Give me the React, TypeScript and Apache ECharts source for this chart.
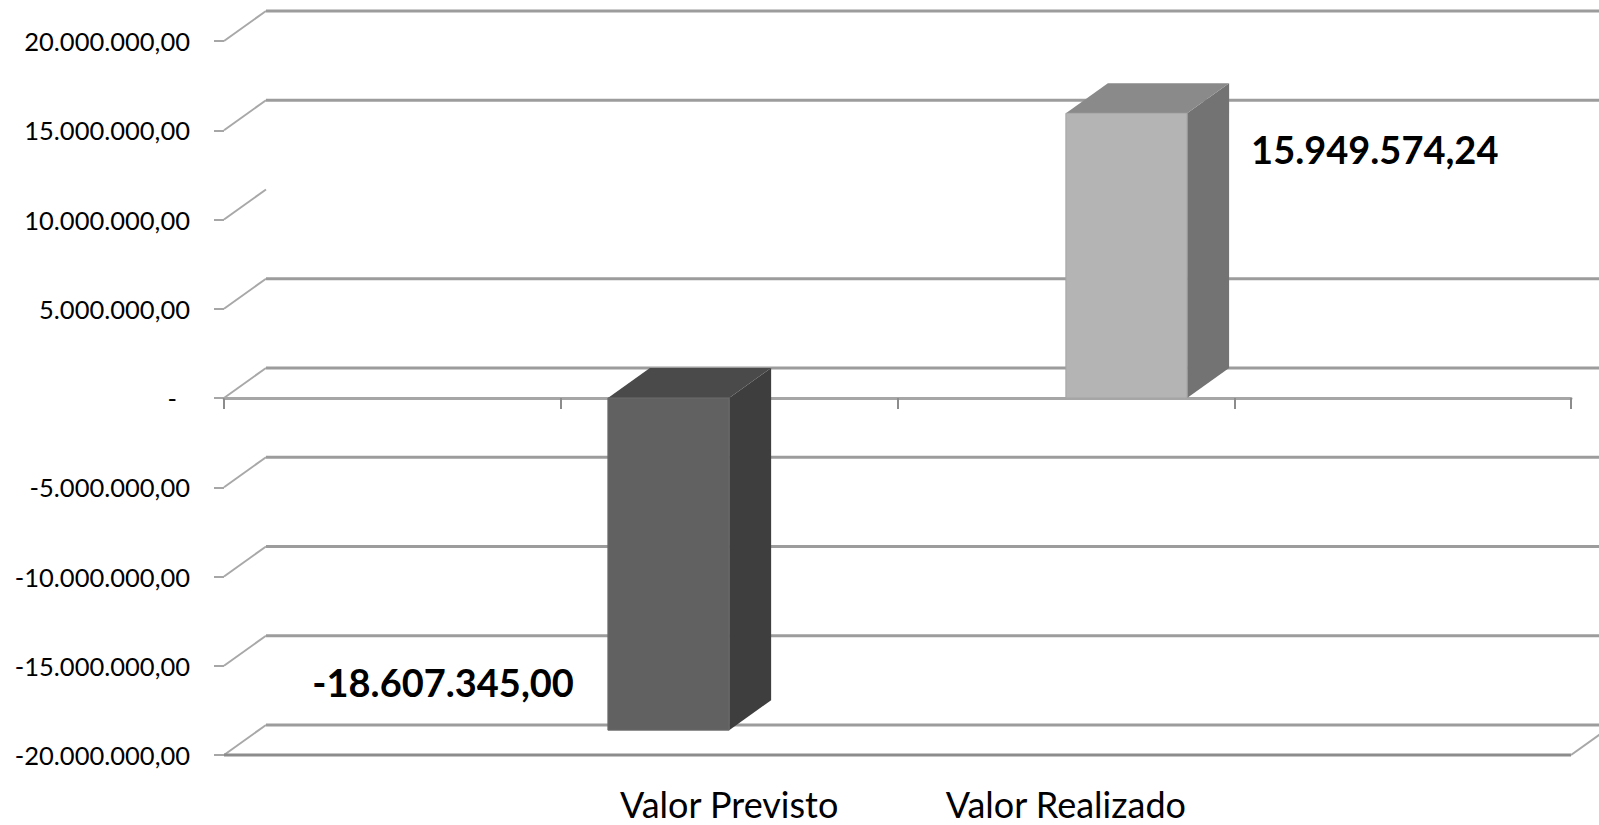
import React, { useEffect, useRef } from "react";
import * as echarts from "echarts";

const categories = ["", "Valor Previsto", "Valor Realizado", " "];
const valorPrevisto: (number | null)[] = [null, -18607345.0, null, null];
const valorRealizado: (number | null)[] = [null, null, 15949574.24, null];

const yMin = -20000000;
const yMax = 20000000;
const yStep = 5000000;
const yTicks = [-20000000, -15000000, -10000000, -5000000, 0, 5000000, 10000000, 15000000, 20000000];
// back-wall gridlines actually visible in the reference (10.000.000 line is absent)
const backGridValues = [-20000000, -15000000, -10000000, -5000000, 0, 5000000, 15000000, 20000000];

const DX = 42;
const DY = -30;

function fmtBR(v: number): string {
  if (v === 0) return "-";
  const neg = v < 0;
  const fixed = Math.abs(v).toFixed(2);
  const [intPart, dec] = fixed.split(".");
  const intS = intPart.replace(/\B(?=(\d{3})+(?!\d))/g, ".");
  return (neg ? "-" : "") + intS + "," + dec;
}

const toItems = (arr: (number | null)[]) =>
  arr.map((v, i) => [i, v]).filter((d) => d[1] != null);

type Colors = { front: string; side: string; top: string; edge: string };

function barRenderer(slot: number, colors: Colors) {
  return (params: any, api: any) => {
    const ci = api.value(0);
    const v = api.value(1);
    const band = api.size([1, 0])[0];
    const base = api.coord([ci, 0]);
    const end = api.coord([ci, v]);
    const w = band * 0.36;
    const xl = base[0] + slot * band * 0.18 - w / 2;
    const xr = xl + w;
    const yTop = Math.min(base[1], end[1]);
    const yBot = Math.max(base[1], end[1]);
    const children: any[] = [
      {
        type: "polygon",
        shape: { points: [[xr, yTop], [xr + DX, yTop + DY], [xr + DX, yBot + DY], [xr, yBot]] },
        style: { fill: colors.side },
      },
      {
        type: "polygon",
        shape: { points: [[xl, yTop], [xr, yTop], [xr + DX, yTop + DY], [xl + DX, yTop + DY]] },
        style: { fill: colors.top },
      },
      {
        type: "rect",
        shape: { x: xl, y: yTop, width: w, height: yBot - yTop },
        style: { fill: colors.front, stroke: colors.edge, lineWidth: 1 },
      },
    ];
    const labelStyle = {
      text: fmtBR(v),
      fontSize: 38,
      fontWeight: "bold",
      fontFamily: "Lato",
      fill: "#000",
      verticalAlign: "middle",
    };
    if (v >= 0) {
      children.push({
        type: "text",
        x: xr + DX + 22,
        y: yTop + 36,
        style: { ...labelStyle, align: "left" },
      });
    } else {
      children.push({
        type: "text",
        x: xl - 34,
        y: yBot - 48,
        style: { ...labelStyle, align: "right" },
      });
    }
    return { type: "group", children };
  };
}

function decorRenderer(params: any, api: any) {
  const v = api.value(1);
  const cs = params.coordSys;
  const y = api.coord([0, v])[1];
  const left = cs.x;
  const right = cs.x + cs.width;
  const children: any[] = [
    {
      type: "line",
      shape: { x1: left, y1: y, x2: left + DX, y2: y + DY },
      style: { stroke: "#a8a8a8", lineWidth: 2 },
    },
  ];
  if (backGridValues.includes(v)) {
    children.push({
      type: "line",
      shape: { x1: left + DX, y1: y + DY, x2: right + DX, y2: y + DY },
      style: { stroke: "#9c9c9c", lineWidth: 3 },
    });
  }
  if (v === yMin) {
    children.push({
      type: "line",
      shape: { x1: left, y1: y, x2: right, y2: y },
      style: { stroke: "#8c8c8c", lineWidth: 3 },
    });
    children.push({
      type: "line",
      shape: { x1: right, y1: y, x2: right + DX, y2: y + DY },
      style: { stroke: "#a8a8a8", lineWidth: 2 },
    });
  }
  return { type: "group", children };
}

export default function App() {
  const ref = useRef<HTMLDivElement>(null);
  useEffect(() => {
    const chart = echarts.init(ref.current!, null, { renderer: "svg" });
    chart.setOption({
      animation: false,
      backgroundColor: "#ffffff",
      grid: { left: 224, right: 28, top: 41, bottom: 70, containLabel: false, outerBoundsMode: "none" },
      xAxis: [
        {
          type: "category",
          data: categories,
          position: "bottom",
          axisLine: { show: true, onZero: true, lineStyle: { color: "#a6a6a6", width: 3 } },
          axisTick: { show: true, length: 11, lineStyle: { color: "#8c8c8c", width: 2 } },
          axisLabel: { show: false },
          splitLine: { show: false },
        },
        {
          type: "category",
          data: categories,
          position: "bottom",
          axisLine: { show: false, onZero: false },
          axisTick: { show: false },
          splitLine: { show: false },
          axisLabel: { show: true, margin: 31, fontSize: 36, lineHeight: 36, fontFamily: "Lato", color: "#000" },
        },
      ],
      yAxis: {
        type: "value",
        min: yMin,
        max: yMax,
        interval: yStep,
        axisLine: { show: false },
        axisTick: { show: true, length: 10, lineStyle: { color: "#a6a6a6", width: 2 } },
        splitLine: { show: false },
        axisLabel: {
          margin: 34,
          fontSize: 25.5,
          fontFamily: "Lato",
          color: "#000",
          formatter: (v: number) => (v === 0 ? "{z|-}" : fmtBR(v)),
          rich: { z: { padding: [0, 13, 0, 0], fontSize: 25.5, fontFamily: "Lato", color: "#000" } },
        },
      },
      series: [
        {
          type: "custom",
          name: "grid",
          xAxisIndex: 0,
          z: 1,
          clip: false,
          silent: true,
          renderItem: decorRenderer,
          data: yTicks.map((v) => [0, v]),
        },
        {
          type: "custom",
          name: "Valor Previsto",
          xAxisIndex: 0,
          z: 3,
          clip: false,
          renderItem: barRenderer(-1, { front: "#616161", side: "#3e3e3e", top: "#4a4a4a", edge: "#6c6c6c" }),
          data: toItems(valorPrevisto),
        },
        {
          type: "custom",
          name: "Valor Realizado",
          xAxisIndex: 0,
          z: 3,
          clip: false,
          renderItem: barRenderer(1, { front: "#b4b4b4", side: "#737373", top: "#8a8a8a", edge: "#a4a4a4" }),
          data: toItems(valorRealizado),
        },
      ],
    });
    return () => chart.dispose();
  }, []);
  return (
    <div
      ref={ref}
      style={{ position: "fixed", left: 0, top: 0, width: 1599, height: 825, background: "#fff" }}
    />
  );
}
